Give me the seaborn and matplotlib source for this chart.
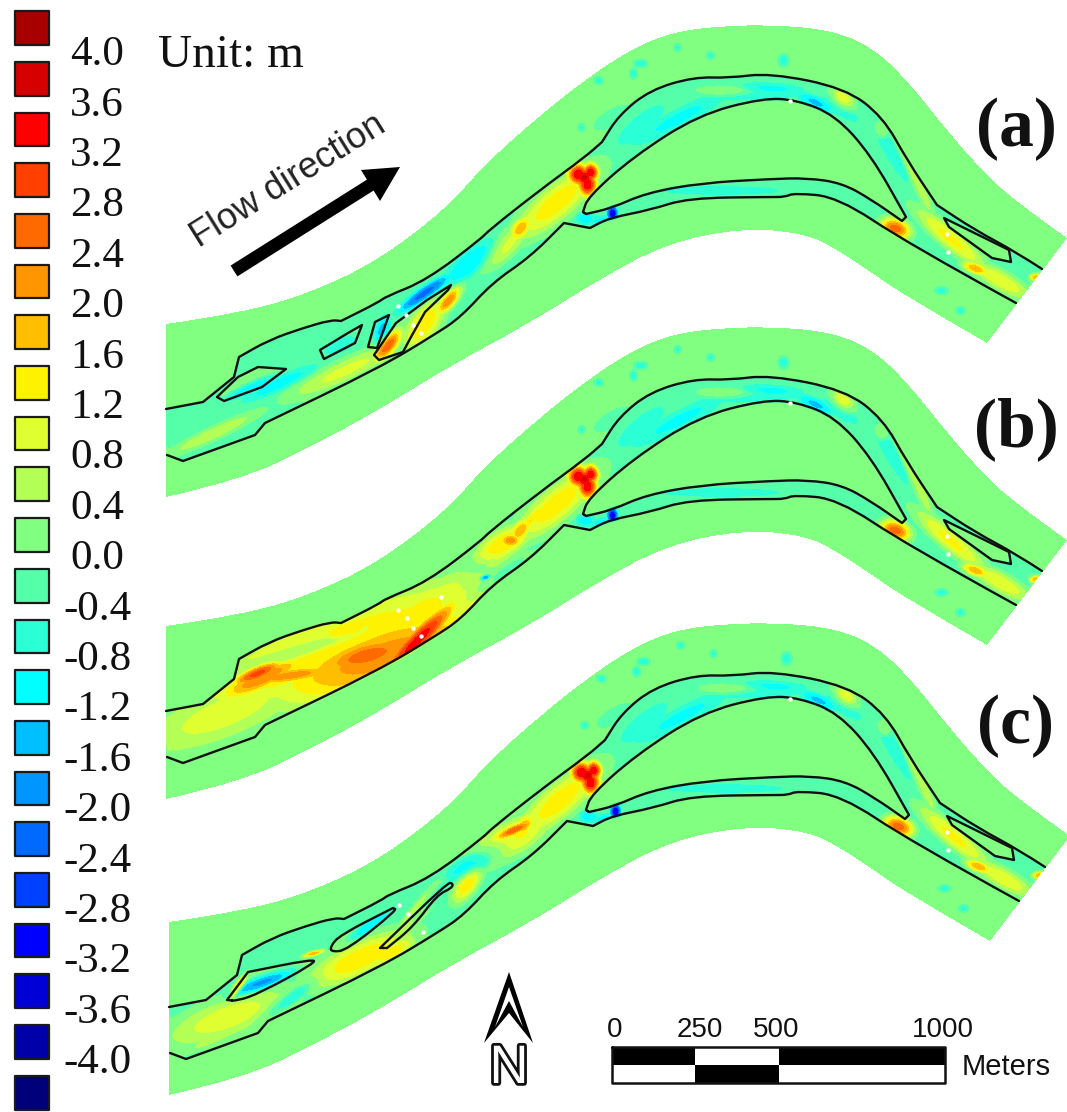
import numpy as np
import matplotlib
matplotlib.use('Agg')
import matplotlib.pyplot as plt
import matplotlib.patheffects as pe
from matplotlib.colors import ListedColormap
from matplotlib.patches import PathPatch
from matplotlib.path import Path
import seaborn as sns

# legend
legend_labels = ['4.0', '3.6', '3.2', '2.8', '2.4', '2.0', '1.6', '1.2', '0.8', '0.4', '0.0',
                 '-0.4', '-0.8', '-1.2', '-1.6', '-2.0', '-2.4', '-2.8', '-3.2', '-3.6', '-4.0']
legend_colors = ['#A80000', '#D60000', '#FF0000', '#FF4000', '#FF6A00', '#FF9500', '#FFBF00', '#FFF200',
                 '#DFFF30', '#B4FF55', '#80FF80', '#55FFAA', '#2AFFD5', '#00FFFF', '#00BFFF', '#0095FF',
                 '#006AFF', '#0040FF', '#0000FF', '#0000D6', '#0000A8', '#00007A']
class_edges = [-4.0, -3.6, -3.2, -2.8, -2.4, -2.0, -1.6, -1.2, -0.8, -0.4, -0.12,
               0.4, 0.8, 1.2, 1.6, 2.0, 2.4, 2.8, 3.2, 3.6, 4.0]

# river outlines, read in pixels on panel (a); a point given twice is a sharp corner
band_top = [(166, 324), (241, 313), (310, 293), (379, 260), (448, 207), (482, 167), (540, 115), (598, 70),
            (640, 45), (674, 32), (720, 26), (775, 25), (831, 30), (872, 47), (907, 80), (941, 123),
            (975, 163), (1009, 197), (1067, 238)]
band_bottom = [(987, 343), (907, 297), (872, 273), (838, 250), (804, 233), (742, 228), (667, 243), (598, 280),
               (530, 323), (448, 367), (379, 410), (310, 447), (241, 480), (166, 497)]
bank_upper = [(166, 409), (203, 402), (203, 402), (234, 377), (234, 377), (239, 357), (239, 357), (269, 340), (303, 328),
              (331, 320), (341, 321), (341, 321), (379, 302), (385, 297), (427, 280), (482, 238), (488, 231), (540, 190),
              (585, 157), (602, 142), (602, 142), (619, 115), (650, 90), (694, 77), (729, 78), (770, 73), (845, 88),
              (883, 117), (907, 160), (937, 205), (937, 205), (975, 230), (1016, 252), (1042, 269)]
bank_lower = [(167, 455), (183, 461), (183, 461), (255, 435), (255, 435), (265, 423), (265, 423), (379, 368), (434, 335),
              (461, 317), (492, 283), (530, 257), (564, 223), (564, 223), (590, 228), (590, 228), (609, 218), (650, 210),
              (688, 198), (770, 197), (785, 197), (794, 193), (838, 197), (907, 243), (1016, 303)]
island_main = [(583, 212), (583, 212), (588, 197), (633, 157), (698, 115), (763, 98), (797, 100), (835, 115), (871, 155),
               (906, 217), (906, 217), (902, 221), (902, 221), (872, 200), (842, 183), (807, 178), (770, 179), (701, 183),
               (646, 193), (612, 208), (586, 214), (586, 214)]
island_right = [(944, 218), (1009, 250), (1011, 262), (992, 258), (949, 227)]

islands_a = [[(217, 397), (238, 377), (258, 367), (286, 369), (262, 387), (224, 401)],
             [(320, 350), (348, 333), (362, 325), (355, 343), (324, 359)],
             [(375, 322), (389, 315), (377, 348), (368, 347)],
             [(374, 355), (396, 323), (427, 300), (451, 285), (448, 290), (425, 312), (411, 337), (403, 352), (379, 360)]]
islands_c = [[(227, 1000), (227, 1000), (248, 972), (248, 972), (313, 959), (315, 963), (260, 993), (237, 1001)],
             [(330, 947), (340, 935), (393, 908), (393, 908), (397, 910), (347, 950), (332, 952)],
             [(380, 948), (380, 948), (447, 883), (453, 883), (452, 888), (437, 895), (413, 927), (387, 948), (387, 948)]]

# elevation change patches : x, y, half length, half width, angle, peak (m)
shared_patches = [(578, 174, 8, 8, 0, 3.6), (590, 172, 6, 7, 0, 3.6), (587, 184, 7, 9, 0, 3.6), (584, 177, 8, 8, 0, 3.7),
                  (556, 202, 38, 12, -40, 1.45), (585, 218, 8, 5, 0, -1.1), (612, 213, 4, 6, 0, -3.2),
                  (600, 220, 11, 4, -10, -0.9), (678, 118, 45, 8, -28, -0.9), (770, 88, 28, 5, 3, -0.9),
                  (640, 125, 35, 11, -40, -0.55), (740, 92, 75, 9, 0, -0.55), (840, 108, 25, 8, 35, -0.55),
                  (720, 90, 22, 4, 0, 0.7), (815, 102, 16, 5, 25, -1.3), (842, 98, 10, 6, 40, 1.3),
                  (880, 130, 7, 4, 60, 0.9), (890, 150, 34, 6, 60, -0.75), (915, 178, 32, 4, 65, 0.8),
                  (720, 190, 70, 5, 0, -0.55), (880, 193, 30, 5, 35, -0.55),
                  (862, 155, 7, 3, 45, 2.2), (864, 185, 9, 2, 25, 1.0), (895, 228, 11, 7, 20, 2.6),
                  (950, 238, 32, 7, 40, 1.3), (975, 268, 10, 4, 20, 2.0), (1000, 280, 25, 7, 30, 1.1),
                  (1036, 277, 5, 3, 0, 2.0), (520, 228, 11, 6, -50, 1.9), (505, 245, 22, 8, -45, 1.0)]
bank_speckles = [(640, 63, 5, 3, 0, -0.6), (633, 73, 3, 4, 0, -0.6), (677, 47, 3, 3, 0, -0.5), (783, 60, 4, 5, 0, -0.6),
                 (598, 80, 4, 3, 0, -0.5), (581, 127, 3, 3, 0, -0.5), (612, 117, 15, 6, -30, -0.4), (941, 290, 5, 3, 0, -0.5),
                 (710, 55, 3, 3, 0, -0.5), (960, 310, 4, 3, 0, -0.5)]
patches_a = [(424, 293, 24, 5, -35, -2.2), (470, 262, 28, 9, -40, -1.2), (448, 300, 13, 5, -50, 2.3),
             (424, 323, 22, 10, -55, 1.5), (387, 345, 14, 6, -50, 2.8), (345, 370, 45, 8, -25, 0.9),
             (279, 383, 34, 6, -25, -1.0), (213, 433, 38, 5, -25, 0.7), (382, 330, 6, 12, 15, -1.4),
             (250, 388, 22, 4, -25, -1.1), (340, 345, 14, 6, -25, -0.8)]
patches_b = [(345, 645, 130, 28, -20, 1.5), (280, 672, 60, 16, -17, 1.5), (385, 650, 85, 28, -20, 1.8),
             (345, 632, 24, 6, -15, 1.9), (385, 655, 90, 24, -18, 2.2), (367, 655, 40, 12, -15, 2.6),
             (417, 640, 40, 8, -45, 3.4), (405, 655, 30, 8, -35, 2.6), (262, 677, 36, 9, -25, 2.3),
             (258, 672, 22, 6, -25, 3.0), (290, 675, 40, 6, -8, 2.2), (225, 712, 70, 20, -22, 0.95),
             (440, 600, 35, 16, -35, 1.0), (420, 615, 40, 18, -35, 1.4),
             (510, 540, 8, 5, 0, 2.3), (503, 543, 24, 10, -30, 1.5), (530, 520, 18, 4, -50, 1.6),
             (485, 577, 4, 2, -25, -2.2), (500, 575, 25, 5, -35, -0.7), (300, 650, 50, 5, -18, -0.9)]
patches_c = [(513, 830, 17, 4, -25, 2.8), (510, 838, 30, 12, -28, 1.5), (360, 958, 40, 12, -25, 1.5),
             (467, 883, 16, 7, -55, 1.5), (477, 860, 30, 8, -30, -1.2), (260, 983, 26, 5, -20, -1.8),
             (227, 1017, 48, 14, -20, 1.0), (237, 987, 11, 3, -55, 2.2), (313, 953, 8, 2, -15, 1.9),
             (287, 1000, 26, 5, -35, -0.9), (370, 925, 20, 4, -35, -1.2), (415, 915, 28, 5, -52, 1.4),
             (425, 905, 25, 4, -50, -1.3), (390, 952, 20, 8, -30, 1.4), (220, 1035, 30, 4, -25, 0.7)]

# small data gaps shown as white dots, panels (a), (b), (c)
gaps_x = [398, 406, 413, 421, 947, 948, 790, 398, 407, 413, 421, 441, 947, 948, 790, 399, 408, 423, 947, 948, 790]
gaps_y = [306, 315, 325, 333, 234, 252, 101, 610, 618, 628, 636, 597, 536, 554, 403, 905, 914, 932, 832, 850, 699]

scale_ticks = [0, 250, 500, 1000]
panel_names = ['(a)', '(b)', '(c)']
panel_label_y = [129, 429, 726]
panel_offsets = [(0, 0), (0, 302), (3, 598)]

W, H = 1067, 1112
sns.set_style('white')
fig = plt.figure(figsize=(W / 100, H / 100), dpi=100)
ax = fig.add_axes([0, 0, 1, 1])

yy, xx = np.mgrid[0:H, 0:W]
grid_pts = np.column_stack([xx.ravel() + 0.5, yy.ravel() + 0.5])


def open_curve(points, first=True):
    # quadratic curve through the mid points, read points stay as control points
    verts = [points[0]]
    codes = [Path.MOVETO if first else Path.LINETO]
    for p, q in zip(points[1:-1], points[2:]):
        verts += [p, ((p[0] + q[0]) / 2, (p[1] + q[1]) / 2)]
        codes += [Path.CURVE3, Path.CURVE3]
    verts[-1] = points[-1]
    return verts, codes


def two_sided_path(side_a, side_b):
    v1, c1 = open_curve(side_a)
    v2, c2 = open_curve(side_b, first=False)
    return Path(v1 + v2 + [v1[0]], c1 + c2 + [Path.CLOSEPOLY])


def closed_path(points):
    start = ((points[-1][0] + points[0][0]) / 2, (points[-1][1] + points[0][1]) / 2)
    verts = [start]
    codes = [Path.MOVETO]
    pts = list(points) + [points[0]]
    for p, q in zip(pts[:-1], pts[1:]):
        verts += [p, ((p[0] + q[0]) / 2, (p[1] + q[1]) / 2)]
        codes += [Path.CURVE3, Path.CURVE3]
    return Path(verts, codes)


def straight_path(points):
    return Path(list(points) + [points[0]], [Path.MOVETO] + [Path.LINETO] * (len(points) - 1) + [Path.CLOSEPOLY])


def path_mask(path):
    return path.contains_points(grid_pts).reshape(H, W)


def box_blur(a, r):
    for axis in (0, 1):
        c = np.cumsum(np.pad(a, [(r + 1, r) if i == axis else (0, 0) for i in range(2)], mode='edge'), axis=axis)
        n = 2 * r + 1
        a = (np.take(c, range(n, c.shape[axis]), axis=axis) - np.take(c, range(0, c.shape[axis] - n), axis=axis)) / n
    return a


def add_patch_field(pos, neg, patch, dx0=0, dy0=0):
    x, y, hl, hw, ang, peak = patch
    x, y = x + dx0, y + dy0
    r = int(max(hl, hw) * 2.6) + 2
    x0, x1 = max(int(x) - r, 0), min(int(x) + r, W)
    y0, y1 = max(int(y) - r, 0), min(int(y) + r, H)
    if x1 <= x0 or y1 <= y0:
        return
    a = np.radians(ang)
    dx = xx[y0:y1, x0:x1] - x
    dy = yy[y0:y1, x0:x1] - y
    u = dx * np.cos(a) + dy * np.sin(a)
    v = -dx * np.sin(a) + dy * np.cos(a)
    val = peak * np.exp(-0.5 * ((u / hl) ** 2 + (v / hw) ** 2) ** 1.3)
    if peak > 0:
        pos[y0:y1, x0:x1] = np.maximum(pos[y0:y1, x0:x1], val)
    else:
        neg[y0:y1, x0:x1] = np.minimum(neg[y0:y1, x0:x1], val)


def shifted(points, off):
    return [(x + off[0], y + off[1]) for x, y in points]


panel_islands = [[straight_path(i) for i in islands_a], [], [closed_path(i) for i in islands_c]]
panel_patches = [patches_a, patches_b, patches_c]

field = np.zeros((H, W))
inside_band = np.zeros((H, W), dtype=bool)
for off, extra, patches in zip(panel_offsets, panel_islands, panel_patches):
    band = path_mask(two_sided_path(shifted(band_top, off), shifted(band_bottom, off)))
    channel = path_mask(two_sided_path(shifted(bank_upper, off), shifted(bank_lower[::-1], off)))
    channel &= ~path_mask(closed_path(shifted(island_main, off)))
    channel &= ~path_mask(straight_path(shifted(island_right, off)))
    # patches stay in the wet channel, they only fade a little past the banks
    gate = np.clip(box_blur(channel.astype(float), 2) * 2, 0, 1)
    open_water = channel.copy()
    for isl in extra:
        open_water &= ~path_mask(isl)
    base = box_blur(open_water.astype(float), 3) * -0.34
    pos = np.zeros((H, W))
    neg = np.zeros((H, W))
    for p in shared_patches:
        add_patch_field(pos, neg, p, off[0], off[1])
    for p in patches:
        add_patch_field(pos, neg, p)
    pos *= gate
    neg *= gate
    for p in bank_speckles:
        add_patch_field(pos, neg, p, off[0], off[1])
    part = pos + np.minimum(base * (1 - np.clip(pos / 0.5, 0, 1)), neg)
    field[band] = part[band]
    inside_band |= band

classes = len(legend_colors) - 1 - np.digitize(field, class_edges)
sns.heatmap(classes, mask=~inside_band, cmap=ListedColormap(legend_colors), vmin=0, vmax=len(legend_colors) - 1,
            cbar=False, xticklabels=False, yticklabels=False, ax=ax, rasterized=True)
ax.set_xlim(0, W)
ax.set_ylim(H, 0)
ax.axis('off')

# river banks and islands
line_kw = dict(fill=False, edgecolor='#101010', lw=1.7, capstyle='round', joinstyle='round')
for off, extra in zip(panel_offsets, panel_islands):
    for line in (bank_upper, bank_lower):
        v, c = open_curve(shifted(line, off))
        ax.add_patch(PathPatch(Path(v, c), **line_kw))
    ax.add_patch(PathPatch(closed_path(shifted(island_main, off)), **line_kw))
    ax.add_patch(PathPatch(straight_path(shifted(island_right, off)), **line_kw))
    for isl in extra:
        ax.add_patch(PathPatch(isl, **line_kw))

sns.scatterplot(x=gaps_x, y=gaps_y, color='white', s=10, linewidth=0, ax=ax, legend=False, zorder=4)

# colour legend
swatch_y = [28 + 50.7 * i for i in range(len(legend_colors))]
sns.scatterplot(x=[32] * len(swatch_y), y=swatch_y, hue=legend_colors, palette=dict(zip(legend_colors, legend_colors)),
                marker='s', s=590, edgecolor='#1a1a1a', linewidth=1.6, legend=False, ax=ax, clip_on=False, zorder=5)
for i, lab in enumerate(legend_labels):
    ax.text(70 if not lab.startswith('-') else 63, 55 + 50.4 * i, lab, family='Liberation Serif', fontsize=31,
            va='center', ha='left', color='#111111')

ax.text(158, 56, 'Unit: m', family='Liberation Serif', fontsize=34, va='center', ha='left', color='#111111')
for name, y in zip(panel_names, panel_label_y):
    ax.text(1016, y, name, family='Liberation Serif', fontweight='bold', fontsize=50, va='center', ha='center', color='#111111')

# flow direction
ax.text(288, 181, 'Flow direction', family='Liberation Sans', fontsize=26, rotation=32, rotation_mode='anchor',
        va='center', ha='center', color='#222222')
ax.plot([234, 372], [271, 184], color='black', lw=9.2, solid_capstyle='butt')
ax.fill([400, 361, 380], [167, 170, 201], color='black', lw=0)

# north arrow
ax.fill([509, 533, 509, 484], [972, 1043, 1013, 1043], color='black', lw=0)
ax.fill([509, 523, 509, 495], [987, 1027, 1001, 1027], color='white', lw=0)
ax.text(509, 1069, 'N', family='Liberation Sans', fontsize=39, ha='center', va='center', color='white',
        path_effects=[pe.Stroke(linewidth=4, foreground='#111111'), pe.Normal()])

# scale bar
m_to_px = 333 / 1000
bar_x = 612
for i, (a, b) in enumerate(zip(scale_ticks[:-1], scale_ticks[1:])):
    top, low = ('black', 'white') if i % 2 == 0 else ('white', 'black')
    ax.fill_between([bar_x + a * m_to_px, bar_x + b * m_to_px], 1047, 1065, color=top, lw=0)
    ax.fill_between([bar_x + a * m_to_px, bar_x + b * m_to_px], 1065, 1083, color=low, lw=0)
ax.plot([612, 945, 945, 612, 612], [1047, 1047, 1083, 1083, 1047], color='#111111', lw=1.8)
for t, lx in zip(scale_ticks, [615, 700, 776, 943]):
    ax.text(lx, 1030, str(t), family='Liberation Sans', fontsize=20, ha='center', va='center', color='#111111')
ax.text(1006, 1067, 'Meters', family='Liberation Sans', fontsize=21, ha='center', va='center', color='#111111')

plt.savefig('out.png', dpi=100)
plt.close()
